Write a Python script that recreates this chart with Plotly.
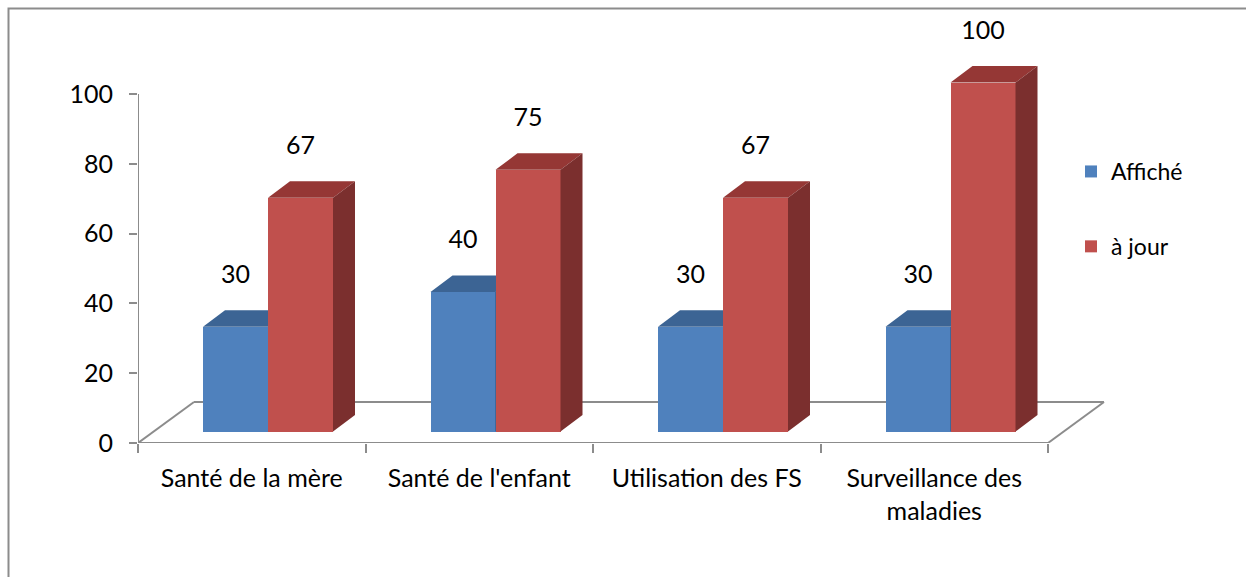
import plotly.graph_objects as go

# ---------------- data ----------------
categories = ["Santé de la mère", "Santé de l'enfant", "Utilisation des FS", "Surveillance des<br>maladies"]
affiche = [30, 40, 30, 30]
a_jour = [67, 75, 67, 100]
series_names = ["Affiché", "à jour"]
y_tick_values = [0, 20, 40, 60, 80, 100]

# ---------------- geometry / style ----------------
W, H = 1246, 577
L_PX, R_PX, T_PX, B_PX = 138, 1112, 20, 443
CAT_PX = 227.5          # px per category
UNIT_PX = 3.49          # px per value unit
PLOT_W = R_PX - L_PX
PLOT_H = B_PX - T_PX
X_RANGE = [-0.5, -0.5 + PLOT_W / CAT_PX]
Y_RANGE = [0, PLOT_H / UNIT_PX]

BAR_W = 65 / CAT_PX
FACE_DX = 16.25 / CAT_PX
FACE_DY = 11.5 / UNIT_PX
DEPTH_DX = 22 / CAT_PX
DEPTH_DY = 16.5 / UNIT_PX
FLOOR_DX = 56 / CAT_PX
FLOOR_DY = 41 / UNIT_PX
LABEL_GAP = 50 / UNIT_PX

FONT = "Lato, Carlito, Calibri, sans-serif"
FONT_SIZE = 25
GRID = "#8c8c8c"

colors = {
    "Affiché": ("#4F81BD", "#3C6494", "#2F4F78"),
    "à jour": ("#C0504D", "#953735", "#7B2F2E"),
}


def px_x(px):
    return (px - L_PX) / PLOT_W


def px_y(px):
    return (B_PX - px) / PLOT_H


fig = go.Figure()

all_series = [affiche, a_jour]
axes = [("x", "y"), ("x2", "y2")]
n = len(categories)

for s_idx, (name, values) in enumerate(zip(series_names, all_series)):
    xa, ya = axes[s_idx]
    front, top_c, side_c = colors[name]
    centers = [i + FACE_DX + (s_idx - 0.5) * BAR_W for i in range(n)]

    # front faces
    fig.add_trace(go.Bar(
        x=centers, y=values, base=FACE_DY, width=BAR_W, name=name,
        marker=dict(color=front, line=dict(width=0)),
        xaxis=xa, yaxis=ya, legendgroup=name, hoverinfo="skip",
    ))

    # top and side faces computed from values
    tx, ty, sx, sy = [], [], [], []
    for c, v in zip(centers, values):
        x0, x1 = c - BAR_W / 2, c + BAR_W / 2
        t = FACE_DY + v
        tx += [x0, x1, x1 + DEPTH_DX, x0 + DEPTH_DX, x0, None]
        ty += [t, t, t + DEPTH_DY, t + DEPTH_DY, t, None]
        sx += [x1, x1 + DEPTH_DX, x1 + DEPTH_DX, x1, x1, None]
        sy += [FACE_DY, FACE_DY + DEPTH_DY, t + DEPTH_DY, t, FACE_DY, None]
    fig.add_trace(go.Scatter(x=tx, y=ty, fill="toself", fillcolor=top_c, mode="lines",
                             line=dict(width=0, color=top_c), showlegend=False,
                             hoverinfo="skip", xaxis=xa, yaxis=ya))
    fig.add_trace(go.Scatter(x=sx, y=sy, fill="toself", fillcolor=side_c, mode="lines",
                             line=dict(width=0, color=side_c), showlegend=False,
                             hoverinfo="skip", xaxis=xa, yaxis=ya))

    # data labels
    fig.add_trace(go.Scatter(
        x=centers, y=[FACE_DY + v + LABEL_GAP for v in values],
        text=[str(v) for v in values], mode="text", textposition="middle center",
        textfont=dict(family=FONT, size=FONT_SIZE, color="#000000"),
        showlegend=False, hoverinfo="skip", cliponaxis=False, xaxis=xa, yaxis=ya,
    ))

# floor (chart decoration)
x_left, x_right = -0.5, n - 0.5
floor_lines = [
    (x_left, 0, x_right, 0),
    (x_right, 0, x_right + FLOOR_DX, FLOOR_DY),
    (x_left + FLOOR_DX, FLOOR_DY, x_right + FLOOR_DX, FLOOR_DY),
    (x_left, 0, x_left + FLOOR_DX, FLOOR_DY),
]
for x0, y0, x1, y1 in floor_lines:
    fig.add_shape(type="line", xref="x", yref="y", x0=x0, y0=y0, x1=x1, y1=y1,
                  line=dict(color=GRID, width=2), layer="below")

# value axis line
fig.add_shape(type="line", xref="x", yref="y", x0=x_left, x1=x_left,
              y0=y_tick_values[0], y1=y_tick_values[-1],
              line=dict(color=GRID, width=2), layer="below")

# outer chart frame
fig.add_shape(type="rect", xref="paper", yref="paper",
              x0=px_x(8.5), x1=px_x(W + 20), y0=px_y(8.5), y1=px_y(H + 20),
              line=dict(color=GRID, width=2), fillcolor="rgba(0,0,0,0)", layer="below")

fig.update_layout(
    width=W, height=H,
    margin=dict(l=L_PX, r=W - R_PX, t=T_PX, b=H - B_PX, pad=0),
    paper_bgcolor="white", plot_bgcolor="rgba(0,0,0,0)",
    barmode="overlay", bargap=0,
    showlegend=True,
    legend=dict(x=px_x(1071), y=px_y(150), xanchor="left", yanchor="top",
                font=dict(family=FONT, size=23, color="#000000"),
                tracegroupgap=42, bgcolor="rgba(0,0,0,0)", itemwidth=30),
    font=dict(family=FONT, size=FONT_SIZE, color="#000000"),
    xaxis=dict(range=X_RANGE, showgrid=False, zeroline=False, showline=False,
               tickmode="array", tickvals=[i - 0.5 for i in range(n + 1)],
               ticktext=["" for _ in range(n + 1)], ticks="outside", ticklen=9,
               tickwidth=1.5, tickcolor=GRID, fixedrange=True),
    xaxis2=dict(range=X_RANGE, overlaying="x", anchor="y2", side="bottom",
                showgrid=False, zeroline=False, showline=False,
                tickmode="array", tickvals=list(range(n)), ticktext=categories,
                ticks="", ticklabelstandoff=18,
                tickfont=dict(family=FONT, size=FONT_SIZE, color="#000000"), fixedrange=True),
    yaxis=dict(range=Y_RANGE, showgrid=False, zeroline=False, showline=False,
               tickmode="array", tickvals=y_tick_values,
               ticktext=[str(v) for v in y_tick_values],
               ticks="outside", ticklen=8, tickwidth=1.5, tickcolor=GRID,
               ticklabelstandoff=11,
               tickfont=dict(family=FONT, size=FONT_SIZE, color="#000000"), fixedrange=True),
    yaxis2=dict(range=Y_RANGE, overlaying="y", anchor="x2", showgrid=False,
                zeroline=False, showline=False, showticklabels=False, ticks="",
                fixedrange=True),
)

fig.write_html("out.html",
               post_script="document.body.style.margin='0';document.body.style.overflow='hidden';",
               config={"displayModeBar": False})
